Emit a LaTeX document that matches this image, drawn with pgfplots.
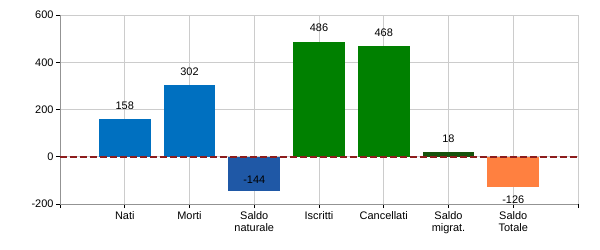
\documentclass[border=0pt]{standalone}
\usepackage{pgfplots}
\pgfplotsset{compat=1.18}
\usepackage{fontspec}
\setmainfont{Liberation Sans}
\definecolor{cBlue}{RGB}{0,112,192}
\definecolor{cDBlue}{RGB}{31,88,166}
\definecolor{cGreen}{RGB}{0,128,0}
\definecolor{cDGreen}{RGB}{22,82,12}
\definecolor{cOrange}{RGB}{255,128,64}
\definecolor{cRed}{RGB}{140,28,28}
\begin{document}
\begin{tikzpicture}
\useasboundingbox (0,0) rectangle (600bp,250bp);
\begin{axis}[
 at={(60bp,46bp)}, anchor=south west,
 width=518bp, height=189bp, scale only axis,
 xmin=0, xmax=8, ymin=-200, ymax=600,
 xtick={0,...,8},
 xticklabels={,Nati,Morti,Saldo\\naturale,Iscritti,Cancellati,Saldo\\migrat.,Saldo\\Totale,},
 ytick={-200,0,200,400,600},
 xmajorgrids, ymajorgrids,
 grid style={draw=gray!40, line width=0.6pt},
 axis x line*=bottom, axis y line*=left,
 axis line style={draw=gray!85, line width=0.8pt, -},
 tick align=outside, major tick length=4bp,
 tick style={black, line width=0.6pt},
 /pgf/number format/assume math mode=true,
 font=\fontsize{11}{12.5}\selectfont,
 xticklabel style={align=center, yshift=0bp},
 yticklabel style={xshift=1bp},
 clip=false,
]
\addplot[ybar, bar width=0.8, bar shift=0pt, fill=cBlue, draw=none] coordinates {(1,158)};
\addplot[ybar, bar width=0.8, bar shift=0pt, fill=cBlue, draw=none] coordinates {(2,302)};
\addplot[ybar, bar width=0.8, bar shift=0pt, fill=cDBlue, draw=none] coordinates {(3,-144)};
\addplot[ybar, bar width=0.8, bar shift=0pt, fill=cGreen, draw=none] coordinates {(4,486)};
\addplot[ybar, bar width=0.8, bar shift=0pt, fill=cGreen, draw=none] coordinates {(5,468)};
\addplot[ybar, bar width=0.8, bar shift=0pt, fill=cDGreen, draw=none] coordinates {(6,18)};
\addplot[ybar, bar width=0.8, bar shift=0pt, fill=cOrange, draw=none] coordinates {(7,-126)};
\addplot[cRed, line width=2bp, dash pattern=on 7bp off 3bp] coordinates {(0,0) (8,0)};
\addplot[draw=none, mark=none, nodes near coords, point meta=explicit symbolic,
  every node near coord/.append style={anchor=center, inner sep=0pt, text=black}]
  coordinates {(1,215)[158] (2,359)[302] (3,-97)[-144] (4,545)[486] (5,524)[468] (6,76)[18] (7,-182)[-126]};
\end{axis}
\end{tikzpicture}
\end{document}
